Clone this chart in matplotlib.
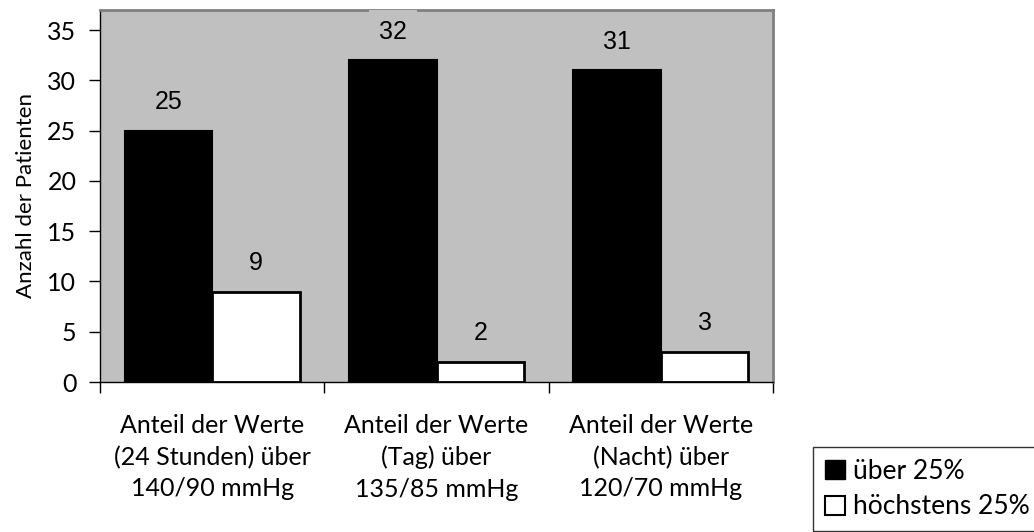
import matplotlib.pyplot as plt
from matplotlib.patches import Patch

plt.rcParams['font.family'] = ['Lato', 'DejaVu Sans']

categories = ["Anteil der Werte\n(24 Stunden) über\n140/90 mmHg",
              "Anteil der Werte\n(Tag) über\n135/85 mmHg",
              "Anteil der Werte\n(Nacht) über\n120/70 mmHg"]
ueber_25 = [25, 32, 31]
hoechstens_25 = [9, 2, 3]
series_labels = ["über 25%", "höchstens 25%"]
yticks = [0, 5, 10, 15, 20, 25, 30, 35]

fig = plt.figure(figsize=(10.34, 5.32), dpi=100)
ax = fig.add_axes([100/1034, 1 - 382/532, 673/1034, 372/532])
ax.set_facecolor("#c0c0c0")

w = 0.39
x = list(range(len(categories)))
b1 = ax.bar([i - w/2 for i in x], ueber_25, width=w, color="black", edgecolor="black", linewidth=1.5)
b2 = ax.bar([i + w/2 for i in x], hoechstens_25, width=w, color="white", edgecolor="black", linewidth=2)

# data labels get a gray box, like the original (it hides the frame behind "32")
for bars, vals in [(b1, ueber_25), (b2, hoechstens_25)]:
    for r, v in zip(bars, vals):
        ax.annotate(str(v), (r.get_x() + r.get_width()/2, v), xytext=(0, 12),
                    textcoords="offset points", ha="center", va="bottom",
                    fontsize=18, family=["Liberation Sans", "DejaVu Sans"],
                    bbox=dict(boxstyle="square,pad=0.4", fc="#c0c0c0", ec="none"),
                    zorder=5, annotation_clip=False)

ax.set_xlim(-0.5, 2.5)
ax.set_ylim(0, 37)
ax.set_yticks(yticks)
ax.tick_params(axis="y", labelsize=18, length=8, width=1, direction="out", pad=9)

ax.set_xticks([-0.5, 0.5, 1.5, 2.5])
ax.set_xticklabels([])
ax.tick_params(axis="x", which="major", length=8, width=1, direction="out")
ax.set_xticks(x, minor=True)
ax.set_xticklabels(categories, minor=True, fontsize=18, linespacing=1.45)
ax.tick_params(axis="x", which="minor", length=0, pad=23)

ax.set_ylabel("Anzahl der Patienten", fontsize=16, labelpad=8)

for s in ["top", "right"]:
    ax.spines[s].set_color("#808080")
    ax.spines[s].set_linewidth(2)
for s in ["left", "bottom"]:
    ax.spines[s].set_color("black")
    ax.spines[s].set_linewidth(1)

handles = [Patch(facecolor="black", edgecolor="black"),
           Patch(facecolor="white", edgecolor="black", linewidth=1.5)]
leg = fig.legend(handles, series_labels, loc="upper left",
                 bbox_to_anchor=(813/1034, 1 - 447/532), fontsize=19,
                 frameon=True, fancybox=False, handlelength=0.75, handleheight=0.75,
                 handletextpad=0.3, borderpad=0.45, labelspacing=0.4, borderaxespad=0)
leg.get_frame().set_edgecolor("black")
leg.get_frame().set_linewidth(1)

fig.savefig("out.png", dpi=100)
